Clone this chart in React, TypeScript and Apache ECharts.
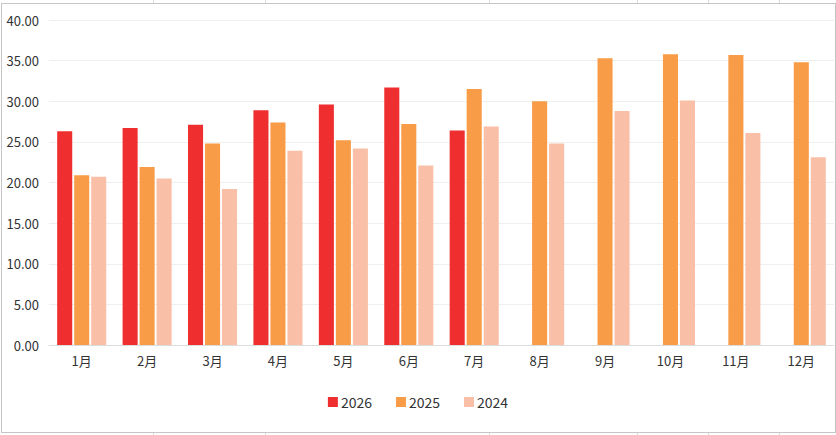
import React, { useEffect, useRef } from "react";
import * as echarts from "echarts";

const categories = ["1月", "2月", "3月", "4月", "5月", "6月", "7月", "8月", "9月", "10月", "11月", "12月"];
const seriesNames = ["2026", "2025", "2024"];
const values2026: (number | null)[] = [26.3, 26.7, 27.1, 28.9, 29.6, 31.7, 26.4, null, null, null, null, null];
const values2025: number[] = [20.9, 21.9, 24.8, 27.4, 25.2, 27.2, 31.5, 30.0, 35.3, 35.8, 35.7, 34.8];
const values2024: number[] = [20.7, 20.5, 19.2, 23.9, 24.2, 22.1, 26.9, 24.8, 28.8, 30.1, 26.1, 23.1];
const colors = ["#EF2F2F", "#F99C47", "#F9BFA7"];
const sheetLinesX = [153, 265, 489, 637, 708, 779];

const FONT = "'Microsoft YaHei', 'Noto Sans CJK SC', sans-serif";

export default function App() {
  const ref = useRef<HTMLDivElement>(null);
  useEffect(() => {
    document.body.style.margin = "0";
    if (!ref.current) return;
    const chart = echarts.init(ref.current, undefined, { renderer: "svg" });
    const data = [values2026, values2025, values2024];
    chart.setOption({
      animation: false,
      textStyle: { fontFamily: FONT },
      color: colors,
      grid: { left: 49, right: 2, top: 17, bottom: 87, containLabel: false },
      legend: {
        data: seriesNames,
        top: 387,
        left: "center",
        itemWidth: 10,
        itemHeight: 10,
        itemGap: 24,
        icon: "rect",
        textStyle: { fontSize: 14, color: "#333", fontFamily: FONT, padding: [0, 0, 0, -2] },
      },
      xAxis: {
        type: "category",
        data: categories,
        axisTick: { show: false },
        axisLine: { lineStyle: { color: "#dcdcdc" } },
        axisLabel: { fontSize: 13, color: "#333", margin: 9, fontFamily: FONT },
      },
      yAxis: {
        type: "value",
        min: 0,
        max: 40,
        interval: 5,
        axisLine: { show: false },
        axisTick: { show: false },
        splitLine: { lineStyle: { color: "#efefef" } },
        axisLabel: {
          fontSize: 13,
          color: "#333",
          margin: 10,
          fontFamily: FONT,
          formatter: (v: number) => v.toFixed(2),
        },
      },
      series: seriesNames.map((name, i) => ({
        name,
        type: "bar",
        data: data[i],
        barGap: "13%",
        barCategoryGap: "25%",
        itemStyle: { color: colors[i] },
      })),
    });
    return () => chart.dispose();
  }, []);

  return (
    <div style={{ position: "fixed", left: 0, top: 0, width: 836, height: 435, background: "#fff", overflow: "hidden" }}>
      {sheetLinesX.map((x) => (
        <div key={x} style={{ position: "absolute", left: x, top: 0, width: 1, height: 435, background: "#dadada" }} />
      ))}
      <div
        style={{
          position: "absolute",
          left: 1,
          top: 3,
          width: 835,
          height: 430,
          boxSizing: "border-box",
          border: "1.5px solid #c6c6c6",
          background: "#fff",
        }}
      />
      <div ref={ref} style={{ position: "absolute", left: 0, top: 3, width: 836, height: 429 }} />
    </div>
  );
}
